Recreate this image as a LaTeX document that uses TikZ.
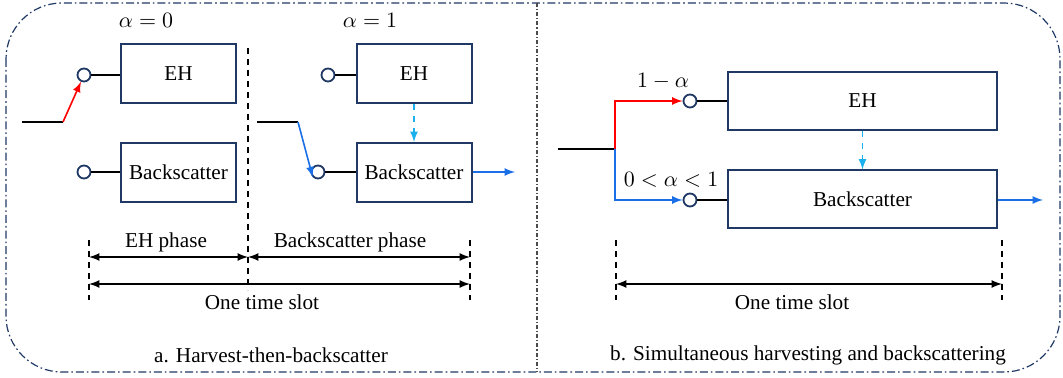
\documentclass[tikz,border=0pt]{standalone}
\usepackage{fontspec}
\setmainfont{Liberation Serif}
\usepackage{tikz}
\usetikzlibrary{arrows}
\definecolor{navy}{HTML}{203864}
\definecolor{sigred}{HTML}{FF0000}
\definecolor{sigblue}{HTML}{1A6FE6}
\definecolor{sigcyan}{HTML}{1AB0EE}
\tikzstyle{scheme}=[x=0.5pt, y=-0.5pt, font=\rmfamily\fontsize{10.6}{12}\selectfont, >=latex]
\tikzstyle{blk}=[rectangle, draw=navy, line width=1pt, fill=white, minimum width=57.5pt, minimum height=29.5pt]
\tikzstyle{wblk}=[blk, minimum width=134.5pt, minimum height=29pt]
\tikzstyle{port}=[circle, draw=navy, line width=0.9pt, fill=white, minimum size=6.5pt, inner sep=0pt]
\tikzstyle{lbl}=[inner sep=1pt]
\tikzstyle{wire}=[-, line width=0.8pt]
\tikzstyle{redge}=[->, line width=0.8pt, draw=sigred]
\tikzstyle{bedge}=[->, line width=0.8pt, draw=sigblue]
\tikzstyle{cedge}=[->, line width=0.8pt, draw=sigcyan, dashed]
\tikzstyle{span}=[<->, line width=0.8pt]
\tikzstyle{tick}=[-, line width=0.9pt, dash pattern=on 3pt off 2.5pt]
\tikzstyle{frame}=[draw=navy, line width=0.6pt, rounded corners=28pt, dash pattern=on 4pt off 1.5pt on 0.8pt off 1.5pt]
\tikzstyle{divider}=[draw=black!70, line width=0.6pt, dash pattern=on 2pt off 1pt on 0.6pt off 1pt]
\newcommand{\tkTop}{240}
\newcommand{\tkBot}{300}
\newcommand{\rowA}{257}
\newcommand{\rowB}{284}
\begin{document}
\begin{tikzpicture}[scheme]
	\useasboundingbox (0,0) rectangle (1063,378);
	\draw[frame] (6,3) rectangle (1060,372);
	\draw[divider] (537,3) -- (537,372);

	%% a. harvest-then-backscatter
	\node[lbl] (alpha0) at (146,20) {$\alpha = 0$};
	\node[lbl] (alpha1) at (370,20) {$\alpha = 1$};

	\draw (178.5,73.5) node[blk] (ea1) {EH};
	\draw (178.5,172.5) node[blk] (ba1) {Backscatter};
	\draw (84,75) node[port] (pa1) {};
	\draw (84,172) node[port] (pb1) {};
	\draw[wire] (pa1) -- (ea1.west |- pa1);
	\draw[wire] (pb1) -- (ba1.west |- pb1);
	\coordinate (in1) at (22,122);
	\coordinate (kn1) at (63,122);
	\draw[wire] (in1) -- (kn1);
	\draw[redge] (kn1) -- (pa1);
	%%
	\coordinate (sepT) at (248,48);
	\coordinate (sepB) at (248,290);
	\draw[tick] (sepT) -- (sepB);
	%%
	\draw (414,73.5) node[blk] (ea2) {EH};
	\draw (414,172.5) node[blk] (ba2) {Backscatter};
	\draw (328,75) node[port] (pa2) {};
	\draw (318,172) node[port] (pb2) {};
	\draw[wire] (pa2) -- (ea2.west |- pa2);
	\draw[wire] (pb2) -- (ba2.west |- pb2);
	\coordinate (in2) at (257,122);
	\coordinate (kn2) at (298,122);
	\draw[wire] (in2) -- (kn2);
	\draw[bedge] (kn2) -- (pb2.south west);
	\draw[cedge] (ea2.south) -- (ba2.north);
	\coordinate (out2) at (515,172);
	\draw[bedge] (ba2.east |- pb2) -- (out2);
	%%
	\coordinate (ta1) at (89,\tkTop);
	\coordinate (tb1) at (89,\tkBot);
	\coordinate (ta2) at (470,\tkTop);
	\coordinate (tb2) at (470,\tkBot);
	\draw[tick] (ta1) -- (tb1);
	\draw[tick] (ta2) -- (tb2);
	\coordinate (ra1) at (89,\rowA);
	\coordinate (ra2) at (248,\rowA);
	\coordinate (ra3) at (470,\rowA);
	\coordinate (rb1) at (89,\rowB);
	\coordinate (rb2) at (470,\rowB);
	\draw[span] (ra1) -- (ra2);
	\draw[span] (ra2) -- (ra3);
	\draw[span] (rb1) -- (rb2);
	\node[lbl] (ehph) at (166,242) {EH phase};
	\node[lbl] (bsph) at (350,242) {Backscatter phase};
	\node[lbl] (slot1) at (262,302) {One time slot};
	\node[lbl] (capa) at (271,355) {a. Harvest-then-backscatter};

	%%%% b. simultaneous harvesting and backscattering
	\draw (862.5,101) node[wblk] (eb) {EH};
	\draw (862.5,199.5) node[wblk] (bb) {Backscatter};
	\draw (690,101) node[port] (pa3) {};
	\draw (690,200) node[port] (pb3) {};
	\draw[wire] (pa3) -- (eb.west |- pa3);
	\draw[wire] (pb3) -- (bb.west |- pb3);
	\coordinate (in3) at (558,149);
	\coordinate (kn3) at (615,149);
	\draw[wire] (in3) -- (kn3);
	\draw[redge] (kn3) |- (pa3);
	\draw[bedge] (kn3) |- (pb3);
	\node[lbl] (frac1) at (663,81) {$1-\alpha$};
	\node[lbl] (frac2) at (671,180) {$0<\alpha<1$};
	\draw[cedge] (eb.south) -- (bb.north);
	\coordinate (out3) at (1043,200);
	\draw[bedge] (bb.east |- pb3) -- (out3);
	%%
	\coordinate (ta3) at (616,\tkTop);
	\coordinate (tb3) at (616,\tkBot);
	\coordinate (ta4) at (1002,\tkTop);
	\coordinate (tb4) at (1002,\tkBot);
	\draw[tick] (ta3) -- (tb3);
	\draw[tick] (ta4) -- (tb4);
	\coordinate (rc1) at (616,\rowB);
	\coordinate (rc2) at (1002,\rowB);
	\draw[span] (rc1) -- (rc2);
	\node[lbl] (slot2) at (792,302) {One time slot};
	\node[lbl] (capb) at (808,355) {b. Simultaneous harvesting and backscattering};
\end{tikzpicture}
\end{document}
